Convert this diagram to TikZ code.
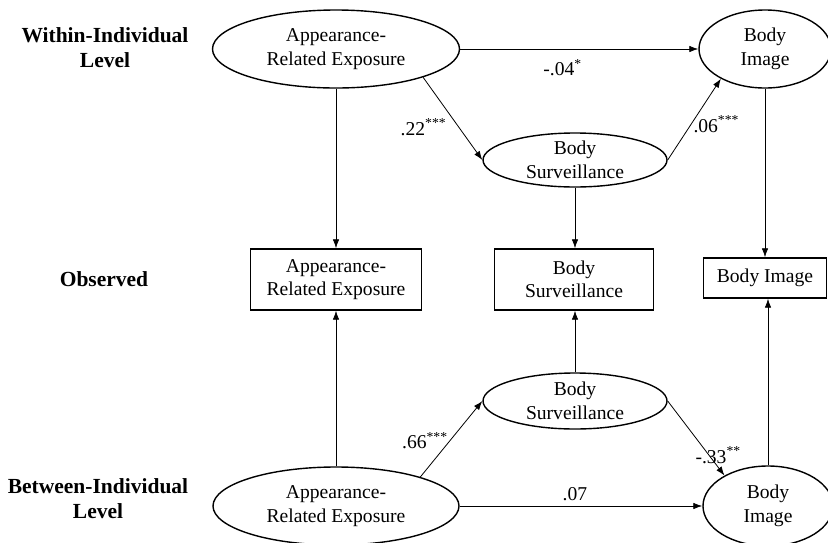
\documentclass[tikz,border=0pt]{standalone}
\usepackage{fontspec}
\setmainfont{Liberation Serif}
\usetikzlibrary{arrows.meta,shapes.geometric}

\begin{document}
\begin{tikzpicture}[x=1pt, y=-1pt, >={Latex[length=9pt,width=6.5pt]},
  font=\fontsize{19.6}{23.5}\selectfont,
  latent/.style={ellipse, draw, line width=1.4pt, align=center, inner xsep=0pt, inner ysep=-10pt},
  observed/.style={rectangle, draw, line width=1.4pt, align=center, inner sep=0pt},
  link/.style={->, line width=0.8pt},
  coef/.style={inner sep=2pt},
  level/.style={font=\fontsize{21.5}{25}\selectfont\bfseries, align=center}]
  \useasboundingbox (0,0) rectangle (828,542);

  % level labels
  \node[level] (within) at (105,48) {Within-Individual\\Level};
  \node[level] (obs) at (104,279) {Observed};
  \node[level] (between) at (98,499) {Between-Individual\\Level};

  % within-individual level
  \node[latent, minimum width=247pt, minimum height=78pt] (wAE) at (336,49) {Appearance-\\Related Exposure};
  \node[latent, minimum width=132pt, minimum height=78pt] (wBI) at (765,49) {Body\\Image};
  \node[latent, minimum width=184pt, minimum height=54pt] (wBS) at (575,160) {Body\\Surveillance};

  % observed
  \node[observed, minimum width=171pt, minimum height=61pt] (oAE) at (336,279.5) {Appearance-\\Related Exposure};
  \node[observed, minimum width=159pt, minimum height=61pt] (oBS) at (574,279.5) {Body\\Surveillance};
  \node[observed, minimum width=123pt, minimum height=40pt] (oBI) at (765,278) {Body Image};

  % between-individual level
  \node[latent, minimum width=184pt, minimum height=56pt] (bBS) at (575,401) {Body\\Surveillance};
  \node[latent, minimum width=246pt, minimum height=78pt] (bAE) at (336,506) {Appearance-\\Related Exposure};
  \node[latent, minimum width=130pt, minimum height=80pt] (bBI) at (768,506) {Body\\Image};

  \draw[link] (wAE.east) -- (wBI.west) node[coef, pos=0.43, below=8pt] {-.04\textsuperscript{*}};
  \draw[link] (wAE.-18) -- (wBS.west) node[coef, pos=0.6, left=10pt] {.22\textsuperscript{***}};
  \draw[link] (wBS.east) -- (wBI.-146) node[coef, pos=0.44, right] {.06\textsuperscript{***}};
  \draw[link] (wAE.south) -- (oAE.north);
  \draw[link] (wBS.south) -- (wBS.south |- oBS.north);
  \draw[link] (wBI.south) -- (oBI.north);

  \draw[link] (bAE.north) -- (oAE.south);
  \draw[link] (bBS.north) -- (bBS.north |- oBS.south);
  \draw[link] (bBI.north) -- (bBI.north |- oBI.south);
  \draw[link] (bAE.19) -- (bBS.west) node[coef, pos=0.48, left] {.66\textsuperscript{***}};
  \draw[link] (bBS.east) -- (bBI.145) node[coef, pos=0.73, xshift=9pt] {-.33\textsuperscript{**}};
  \draw[link] (bAE.east) -- (bBI.west) node[coef, pos=0.475, above=3pt] {.07};
\end{tikzpicture}
\end{document}
